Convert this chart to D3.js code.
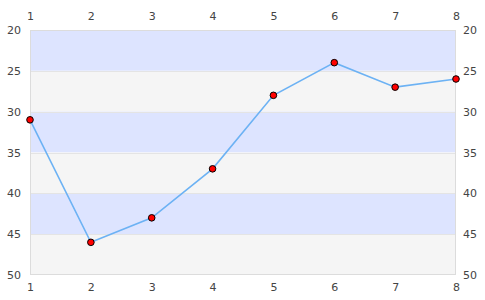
<!DOCTYPE html>
<html><head><meta charset="utf-8">
<script src="https://cdn.jsdelivr.net/npm/d3@7"></script>
<style>body{margin:0;background:#fff}text{font-family:"DejaVu Sans",sans-serif;font-size:11px;fill:#444}</style>
</head><body><svg id="c" width="485" height="300"></svg>
<script>
const xs = [1,2,3,4,5,6,7,8];
const ys = [31,46,43,37,28,24,27,26];
const yTicks = [20,25,30,35,40,45,50];
const bands = [[20,25],[25,30],[30,35],[35,40],[40,45],[45,50]];

const svg = d3.select("#c");
const L=30,R=456,T=30,B=275;
const x = d3.scaleLinear().domain([1,8]).range([L,R]);
const y = d3.scaleLinear().domain([20,50]).range([T,B]);

svg.selectAll("rect.band").data(bands).enter().append("rect")
  .attr("x",L).attr("width",R-L)
  .attr("y",d=>y(d[0])).attr("height",d=>y(d[1])-y(d[0]))
  .attr("fill",(d,i)=>i%2===0?"#dde4ff":"#f5f5f5");
svg.selectAll("line.sep").data(yTicks.slice(1,-1)).enter().append("line")
  .attr("x1",L).attr("x2",R).attr("y1",d=>Math.round(y(d))+0.5).attr("y2",d=>Math.round(y(d))+0.5)
  .attr("stroke","#e4e4e4");
svg.append("rect").attr("x",L+0.5).attr("y",T+0.5).attr("width",R-L-1).attr("height",B-T-1)
  .attr("fill","none").attr("stroke","#dcdcdc");

const fmt = d3.format("d");
function style(g){g.select(".domain").remove();g.selectAll(".tick line").remove();}
svg.append("g").attr("transform",`translate(0,${T})`).call(d3.axisTop(x).tickValues(xs).tickFormat(fmt).tickSize(0).tickPadding(10)).call(style);
svg.append("g").attr("transform",`translate(0,${B})`).call(d3.axisBottom(x).tickValues(xs).tickFormat(fmt).tickSize(0).tickPadding(8)).call(style);
svg.append("g").attr("transform",`translate(${L},0)`).call(d3.axisLeft(y).tickValues(yTicks).tickFormat(fmt).tickSize(0).tickPadding(9)).call(style);
svg.append("g").attr("transform",`translate(${R},0)`).call(d3.axisRight(y).tickValues(yTicks).tickFormat(fmt).tickSize(0).tickPadding(7)).call(style);
svg.selectAll(".tick text").attr("fill","#444").style("font-size","11px").style("font-family","DejaVu Sans");

const pts = xs.map((v,i)=>[v,ys[i]]);
svg.append("path").datum(pts).attr("fill","none").attr("stroke","#6cb2f4").attr("stroke-width",1.6)
  .attr("d",d3.line().x(d=>x(d[0])).y(d=>y(d[1])));
svg.selectAll("circle").data(pts).enter().append("circle")
  .attr("cx",d=>x(d[0])).attr("cy",d=>y(d[1])).attr("r",3.3)
  .attr("fill","#ff0000").attr("stroke","#000").attr("stroke-width",1);
</script></body></html>
